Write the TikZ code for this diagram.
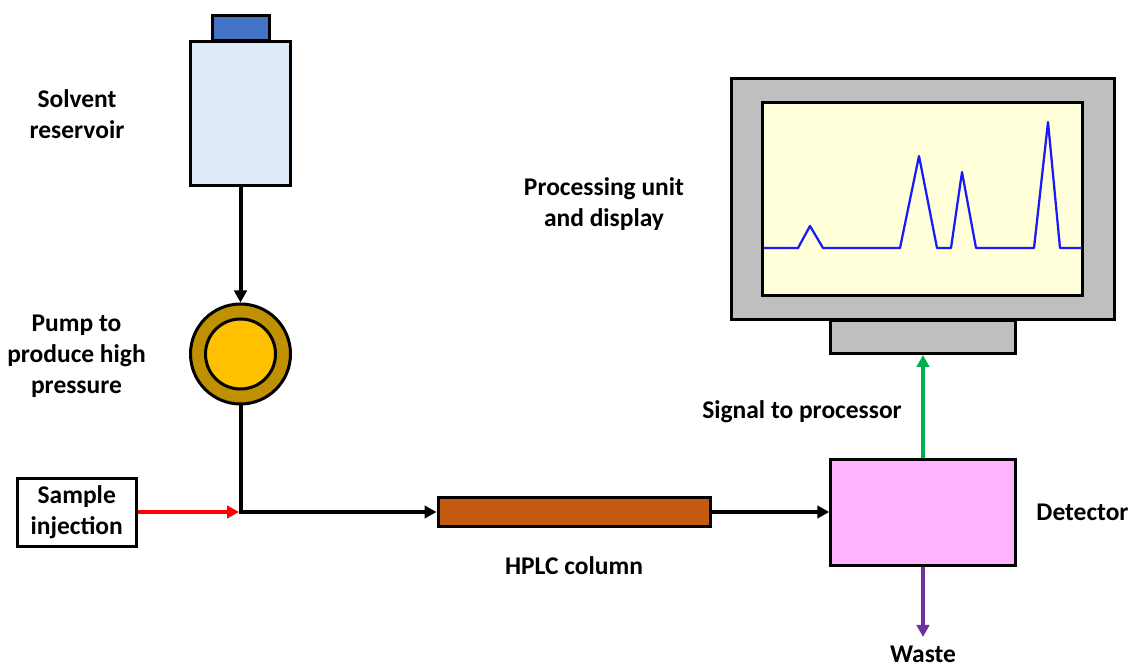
\documentclass[tikz,border=0pt]{standalone}
\usepackage{fontspec}
\setmainfont{Carlito}
\usetikzlibrary{arrows.meta}
\definecolor{capblue}{HTML}{4472C4}
\definecolor{solvent}{HTML}{DEEAF6}
\definecolor{pumpring}{HTML}{BF9000}
\definecolor{pumpcore}{HTML}{FFC000}
\definecolor{columnbrown}{HTML}{C55A11}
\definecolor{detectorpink}{HTML}{FFB3FF}
\definecolor{casegray}{HTML}{BFBFBF}
\definecolor{screenyellow}{HTML}{FFFFD9}
\definecolor{signalgreen}{HTML}{00B050}
\definecolor{wastepurple}{HTML}{7030A0}
\begin{document}
\begin{tikzpicture}[
	partbox/.style={draw=black, line width=0.06cm, rectangle, inner sep=0pt},
	partcircle/.style={draw=black, line width=0.06cm, circle, inner sep=0pt},
	mylabel/.style={font=\fontsize{14.5}{17.6}\selectfont\bfseries, align=center, inner sep=0pt},
	flow/.style={line width=0.08cm, -{Triangle[length=0.24cm, width=0.25cm]}}]
	\useasboundingbox (0, 0) rectangle (22.6, 13.34);

	\node[partbox, fill=capblue, minimum width=1.14cm, minimum height=0.50cm] at (4.81, 12.77) (cap) {};
	\node[partbox, fill=solvent, minimum width=1.99cm, minimum height=2.88cm] at (4.81, 11.06) (reservoir) {};
	\node[partcircle, fill=pumpring, minimum size=2.0cm] at (4.81, 6.26) (pump) {};
	\node[partcircle, fill=pumpcore, minimum size=1.4cm] at (4.81, 6.26) (pumpcore) {};
	\node[partbox, mylabel, fill=white, minimum width=2.37cm, minimum height=1.36cm] at (1.535, 3.09) (sample) {Sample\\injection};
	\node[partbox, fill=columnbrown, minimum width=5.45cm, minimum height=0.58cm] at (11.485, 3.10) (column) {};
	\node[partbox, fill=detectorpink, minimum width=3.69cm, minimum height=2.11cm] at (18.46, 3.09) (detector) {};
	\node[partbox, fill=casegray, minimum width=3.69cm, minimum height=0.66cm] at (18.46, 6.60) (stand) {};
	\node[partbox, fill=casegray, minimum width=7.65cm, minimum height=4.83cm] at (18.46, 9.36) (monitor) {};
	\node[partbox, fill=screenyellow, minimum width=6.39cm, minimum height=3.87cm] at (18.45, 9.36) (screen) {};

	% chromatogram
	\draw[blue!90!white, line width=0.045cm, line join=round]
		(15.28, 8.38) -- (15.96, 8.38) -- (16.20, 8.82) -- (16.46, 8.38) -- (18.00, 8.38)
		-- (18.38, 10.22) -- (18.74, 8.38) -- (19.02, 8.38) -- (19.24, 9.90) -- (19.52, 8.38)
		-- (20.68, 8.38) -- (20.96, 10.90) -- (21.20, 8.38) -- (21.64, 8.38);

	\node[mylabel] at (1.54, 11.06) (reservoirlabel) {Solvent\\reservoir};
	\node[mylabel] at (1.53, 6.22) (pumplabel) {Pump to\\produce high\\pressure};
	\node[mylabel] at (12.08, 9.26) (monitorlabel) {Processing unit\\and display};
	\node[mylabel] at (16.04, 5.10) (signallabel) {Signal to processor};
	\node[mylabel] at (21.65, 3.10) (detectorlabel) {Detector};
	\node[mylabel] at (11.48, 2.03) (columnlabel) {HPLC column};
	\node[mylabel] at (18.46, 0.25) (wastelabel) {Waste};

	\coordinate (junction) at (pump.south |- column.west);
	\coordinate (drain) at (18.46, 0.60);

	\draw[flow] (reservoir.south) -- (pump.north);
	\draw[flow, red] (sample.east |- junction) -- ([xshift=-0.03cm]junction);
	\draw[flow] (pump.south) -- (junction) -- (column.west);
	\draw[flow] (column.east) -- (column.east -| detector.west);
	\draw[flow, signalgreen] (detector.north) -- (stand.south);
	\draw[flow, wastepurple] (detector.south) -- (drain);
\end{tikzpicture}
\end{document}
